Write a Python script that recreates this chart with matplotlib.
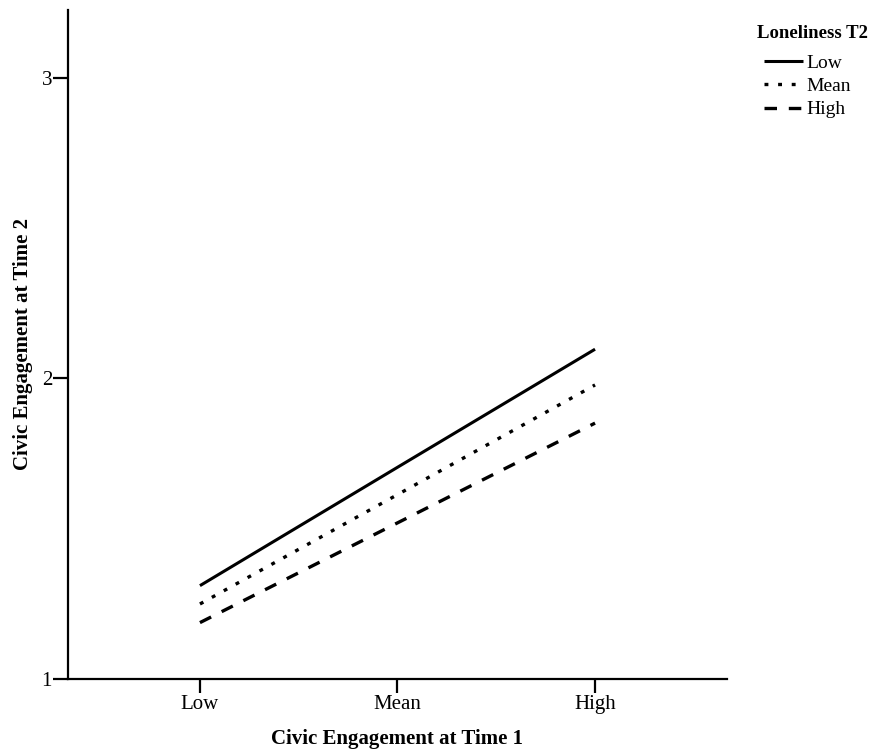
import matplotlib
matplotlib.use("Agg")
import matplotlib.pyplot as plt

plt.rcParams['font.family'] = ['Liberation Serif', 'DejaVu Serif']
plt.rcParams['lines.scale_dashes'] = False

categories = ["Low", "Mean", "High"]
series_names = ["Low", "Mean", "High"]
low_vals = [1.309, 1.703, 2.096]
mean_vals = [1.248, 1.612, 1.977]
high_vals = [1.186, 1.518, 1.850]
y_ticks = [1, 2, 3]

fig = plt.figure(figsize=(8.73, 7.53), dpi=100)
ax = fig.add_axes([68/873, 74.5/753, 659/873, 668.5/753])

x = list(range(len(categories)))
styles = [('-', 2.2), ((0, (2.8, 7.0)), 2.4), ((0, (9.0, 8.5)), 2.4)]
handles = []
for vals, name, (ls, lw) in zip([low_vals, mean_vals, high_vals], series_names, styles):
    line, = ax.plot(x, vals, color='black', lw=lw, linestyle=ls,
                    dash_capstyle='butt', solid_capstyle='butt', label=name)
    handles.append(line)

ax.set_xlim(-0.668, 2.668)
ax.set_ylim(1, 3.225)
ax.set_xticks(x)
ax.set_xticklabels(categories, fontsize=15)
ax.set_yticks(y_ticks)
ax.set_yticklabels([str(v) for v in y_ticks], fontsize=15)
ax.spines['top'].set_visible(False)
ax.spines['right'].set_visible(False)
for s in ['left', 'bottom']:
    ax.spines[s].set_linewidth(1.6)
ax.tick_params(axis='y', length=10.5, width=1.6, direction='out', pad=1)
ax.tick_params(axis='x', length=10, width=1.6, direction='out', pad=2)
ax.set_xlabel("Civic Engagement at Time 1", fontsize=15, fontweight='bold', labelpad=11)
ax.set_ylabel("Civic Engagement at Time 2", fontsize=15, fontweight='bold', labelpad=6)

fig.text(757/873, 1 - 34/753, "Loneliness T2", fontsize=13.5, fontweight='bold',
         ha='left', va='center')
leg = fig.legend(handles=handles, labels=series_names, loc='upper left',
                 bbox_to_anchor=(764/873, 1 - 54/753), frameon=False,
                 fontsize=14, handlelength=2.0, handletextpad=0.2,
                 labelspacing=0.3, borderaxespad=0, borderpad=0)

fig.savefig("out.png", dpi=100)
